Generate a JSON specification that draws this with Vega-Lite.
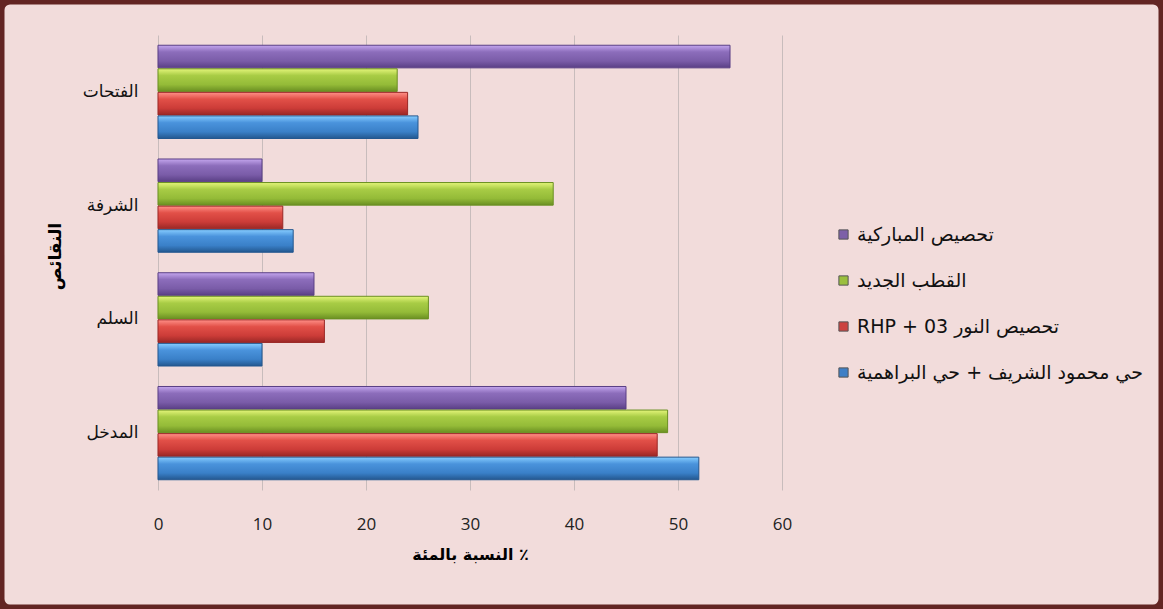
{
  "$schema": "https://vega.github.io/schema/vega-lite/v6.json",
  "width": 1163,
  "height": 609,
  "padding": 0,
  "autosize": {"type": "none"},
  "background": "#f2dcdb",
  "config": {
    "view": {"fill": "#f2dcdb", "stroke": "#632523", "strokeWidth": 9, "cornerRadius": 10},
    "font": "DejaVu Sans"
  },
  "data": {
    "values": [
      {"category": "الفتحات", "series": "تحصيص المباركية", "value": 55},
      {"category": "الفتحات", "series": "القطب الجديد", "value": 23},
      {"category": "الفتحات", "series": "RHP + 03 تحصيص النور", "value": 24},
      {"category": "الفتحات", "series": "حي محمود الشريف + حي البراهمية", "value": 25},
      {"category": "الشرفة", "series": "تحصيص المباركية", "value": 10},
      {"category": "الشرفة", "series": "القطب الجديد", "value": 38},
      {"category": "الشرفة", "series": "RHP + 03 تحصيص النور", "value": 12},
      {"category": "الشرفة", "series": "حي محمود الشريف + حي البراهمية", "value": 13},
      {"category": "السلم", "series": "تحصيص المباركية", "value": 15},
      {"category": "السلم", "series": "القطب الجديد", "value": 26},
      {"category": "السلم", "series": "RHP + 03 تحصيص النور", "value": 16},
      {"category": "السلم", "series": "حي محمود الشريف + حي البراهمية", "value": 10},
      {"category": "المدخل", "series": "تحصيص المباركية", "value": 45},
      {"category": "المدخل", "series": "القطب الجديد", "value": 49},
      {"category": "المدخل", "series": "RHP + 03 تحصيص النور", "value": 48},
      {"category": "المدخل", "series": "حي محمود الشريف + حي البراهمية", "value": 52}
    ]
  },
  "encoding": {
    "y": {
      "field": "category",
      "type": "nominal",
      "sort": ["الفتحات", "الشرفة", "السلم", "المدخل"],
      "scale": {"range": [35, 490], "paddingInner": 0.18, "paddingOuter": 0.09},
      "axis": {
        "title": "النقائص",
        "offset": -158,
        "domain": false,
        "ticks": false,
        "labelPadding": 20,
        "labelFontSize": 17,
        "labelColor": "#111111",
        "titleFontSize": 17,
        "titleFontWeight": "bold",
        "titleColor": "#000000",
        "titleX": -103,
        "titleY": 256,
        "titleAngle": -90,
        "titleAlign": "center",
        "titleBaseline": "middle"
      }
    },
    "yOffset": {
      "field": "series",
      "type": "nominal",
      "sort": ["تحصيص المباركية", "القطب الجديد", "RHP + 03 تحصيص النور", "حي محمود الشريف + حي البراهمية"],
      "scale": {"paddingInner": 0.04}
    },
    "x": {
      "field": "value",
      "type": "quantitative",
      "scale": {"domain": [-15.19, 96.63], "nice": false, "zero": false}
    }
  },
  "layer": [
    {
      "encoding": {
        "x": {
          "field": "value",
          "type": "quantitative",
          "axis": {
            "orient": "top",
            "title": null,
            "values": [0, 10, 20, 30, 40, 50, 60],
            "labels": false,
            "domain": false,
            "ticks": false,
            "grid": true,
            "gridColor": "#c8bcbc",
            "gridWidth": 1
          }
        }
      },
      "layer": [
        {
          "transform": [{"filter": "datum.series === 'تحصيص المباركية'"}],
          "mark": {
            "type": "bar",
            "stroke": "#5a3f85",
            "strokeWidth": 1,
            "fill": {
              "gradient": "linear", "x1": 0, "y1": 0, "x2": 0, "y2": 1,
              "stops": [
                {"offset": 0, "color": "#c4a6ee"},
                {"offset": 0.3, "color": "#8c6dbb"},
                {"offset": 0.7, "color": "#7a5ca8"},
                {"offset": 1, "color": "#5a3f85"}
              ]
            }
          }
        },
        {
          "transform": [{"filter": "datum.series === 'القطب الجديد'"}],
          "mark": {
            "type": "bar",
            "stroke": "#6a8f22",
            "strokeWidth": 1,
            "fill": {
              "gradient": "linear", "x1": 0, "y1": 0, "x2": 0, "y2": 1,
              "stops": [
                {"offset": 0, "color": "#e4f57a"},
                {"offset": 0.3, "color": "#a8cc45"},
                {"offset": 0.7, "color": "#94bb38"},
                {"offset": 1, "color": "#6a8f22"}
              ]
            }
          }
        },
        {
          "transform": [{"filter": "datum.series === 'RHP + 03 تحصيص النور'"}],
          "mark": {
            "type": "bar",
            "stroke": "#9a2826",
            "strokeWidth": 1,
            "fill": {
              "gradient": "linear", "x1": 0, "y1": 0, "x2": 0, "y2": 1,
              "stops": [
                {"offset": 0, "color": "#ff9088"},
                {"offset": 0.3, "color": "#e25048"},
                {"offset": 0.7, "color": "#cc3c38"},
                {"offset": 1, "color": "#9a2826"}
              ]
            }
          }
        },
        {
          "transform": [{"filter": "datum.series === 'حي محمود الشريف + حي البراهمية'"}],
          "mark": {
            "type": "bar",
            "stroke": "#23578f",
            "strokeWidth": 1,
            "fill": {
              "gradient": "linear", "x1": 0, "y1": 0, "x2": 0, "y2": 1,
              "stops": [
                {"offset": 0, "color": "#86cdff"},
                {"offset": 0.3, "color": "#4a93dc"},
                {"offset": 0.7, "color": "#3a80c8"},
                {"offset": 1, "color": "#23578f"}
              ]
            }
          }
        }
      ]
    },
    {
      "mark": {"type": "bar", "opacity": 0},
      "encoding": {
        "x": {
          "field": "value",
          "type": "quantitative",
          "axis": {
            "orient": "bottom",
            "title": "النسبة بالمئة ٪",
            "values": [0, 10, 20, 30, 40, 50, 60],
            "offset": -119,
            "domain": false,
            "ticks": false,
            "tickSize": 0,
            "grid": false,
            "labelPadding": 26,
            "labelFontSize": 17,
            "labelFont": "Open Sans",
            "labelColor": "#222222",
            "titleX": 470,
            "titleY": 64,
            "titleAlign": "center",
            "titleBaseline": "middle",
            "titleFontSize": 16,
            "titleFontWeight": "bold",
            "titleColor": "#000000"
          }
        },
        "color": {
          "field": "series",
          "type": "nominal",
          "scale": {
            "domain": ["تحصيص المباركية", "القطب الجديد", "RHP + 03 تحصيص النور", "حي محمود الشريف + حي البراهمية"],
            "range": ["#7d60a8", "#9bbf3e", "#cc4340", "#3f7fc6"]
          },
          "legend": {
            "orient": "none",
            "legendX": 834,
            "legendY": 225,
            "title": null,
            "labelFontSize": 19,
            "labelLimit": 400,
            "labelColor": "#111111",
            "symbolType": "square",
            "symbolSize": 85,
            "symbolOpacity": 1,
            "symbolStrokeWidth": 1,
            "symbolStrokeColor": "#555555",
            "rowPadding": 26,
            "labelOffset": 4
          }
        }
      }
    }
  ],
  "resolve": {"axis": {"x": "independent"}}
}
